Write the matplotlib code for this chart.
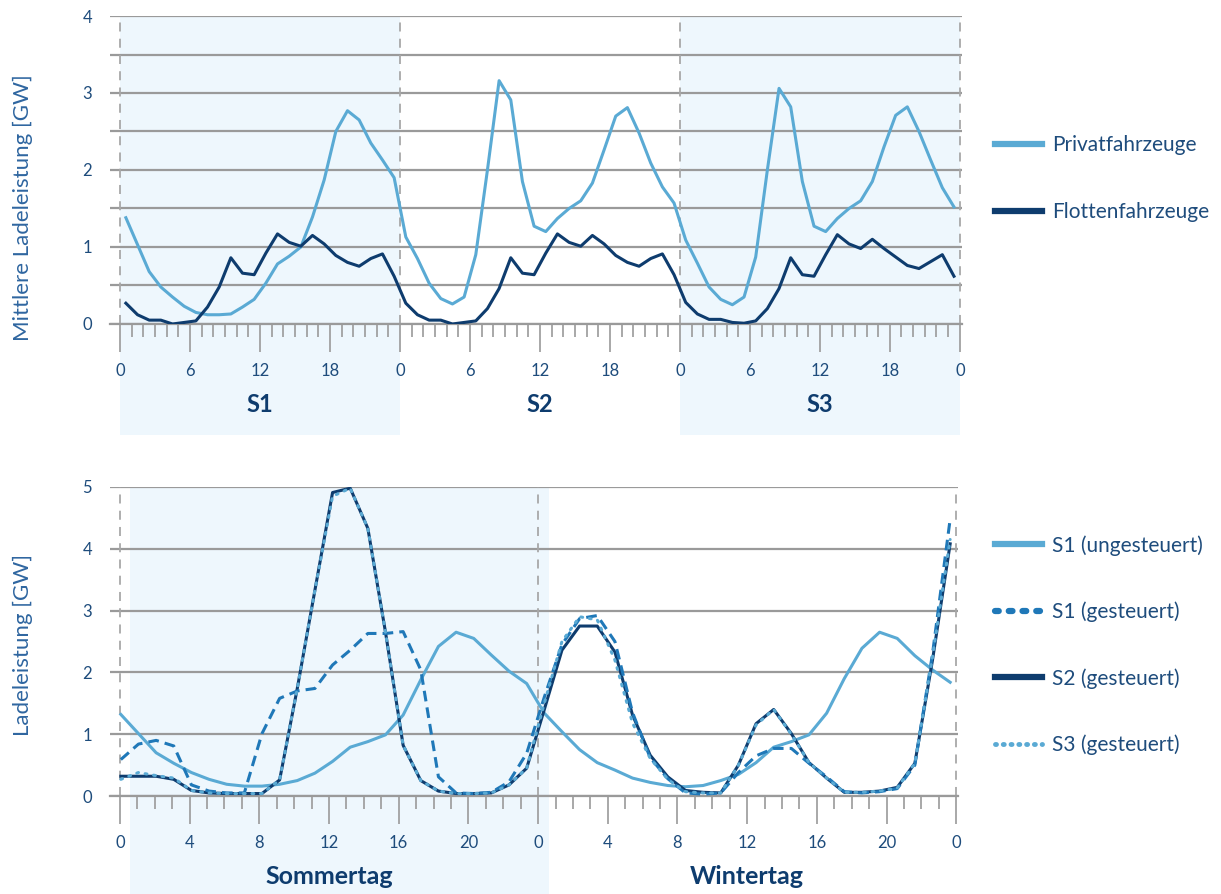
import numpy as np
import matplotlib
matplotlib.use('Agg')
import matplotlib.pyplot as plt
from matplotlib.lines import Line2D

plt.rcParams['font.family'] = ['Lato', 'DejaVu Sans']

# ---------------- data: top chart (hourly means, three scenarios S1..S3)
scenarios = ['S1', 'S2', 'S3']
private_s1 = [1.38, 1.03, 0.68, 0.48, 0.35, 0.23, 0.15, 0.12, 0.12, 0.13, 0.22, 0.32,
              0.53, 0.78, 0.88, 1.00, 1.39, 1.87, 2.50, 2.77, 2.65, 2.35, 2.13, 1.90]
private_s2 = [1.13, 0.85, 0.53, 0.33, 0.26, 0.35, 0.90, 2.00, 3.16, 2.91, 1.85, 1.27,
              1.20, 1.37, 1.50, 1.60, 1.83, 2.26, 2.70, 2.81, 2.48, 2.09, 1.78, 1.57]
private_s3 = [1.09, 0.79, 0.48, 0.32, 0.25, 0.35, 0.87, 2.00, 3.06, 2.82, 1.85, 1.27,
              1.20, 1.37, 1.50, 1.60, 1.85, 2.30, 2.71, 2.82, 2.50, 2.13, 1.77, 1.52]
fleet_s1 = [0.27, 0.12, 0.05, 0.05, 0.00, 0.02, 0.04, 0.22, 0.48, 0.86, 0.66, 0.64,
            0.92, 1.17, 1.06, 1.01, 1.15, 1.04, 0.89, 0.80, 0.75, 0.85, 0.91, 0.62]
fleet_s2 = [0.27, 0.12, 0.05, 0.05, 0.00, 0.02, 0.04, 0.20, 0.46, 0.86, 0.66, 0.64,
            0.92, 1.17, 1.06, 1.01, 1.15, 1.04, 0.89, 0.80, 0.75, 0.85, 0.91, 0.64]
fleet_s3 = [0.28, 0.13, 0.06, 0.06, 0.02, 0.01, 0.04, 0.20, 0.46, 0.86, 0.64, 0.62,
            0.90, 1.16, 1.04, 0.98, 1.10, 0.98, 0.87, 0.76, 0.72, 0.81, 0.90, 0.62]

# ---------------- data: bottom chart (summer day + winter day)
days = ['Sommertag', 'Wintertag']
s1_unctrl = [1.32, 1.01, 0.70, 0.53, 0.38, 0.27, 0.19, 0.16, 0.16, 0.19, 0.25, 0.37,
             0.56, 0.79, 0.88, 0.99, 1.31, 1.88, 2.42, 2.65, 2.55, 2.28, 2.02, 1.82,
             1.34, 1.04, 0.75, 0.54, 0.42, 0.29, 0.22, 0.17, 0.15, 0.17, 0.25, 0.35,
             0.54, 0.79, 0.88, 0.99, 1.34, 1.90, 2.39, 2.65, 2.55, 2.27, 2.04, 1.84]
s1_ctrl = [0.59, 0.84, 0.90, 0.81, 0.18, 0.08, 0.05, 0.05, 1.01, 1.58, 1.70, 1.74,
           2.12, 2.36, 2.63, 2.63, 2.66, 2.04, 0.31, 0.05, 0.04, 0.06, 0.23, 0.69,
           1.60, 2.45, 2.87, 2.92, 2.50, 1.35, 0.62, 0.28, 0.05, 0.03, 0.05, 0.38,
           0.65, 0.77, 0.77, 0.53, 0.31, 0.07, 0.05, 0.07, 0.12, 0.50, 2.30, 4.48]
s2_ctrl = [0.32, 0.32, 0.32, 0.27, 0.09, 0.05, 0.04, 0.04, 0.04, 0.26, 1.74, 3.33,
           4.91, 4.98, 4.33, 2.65, 0.82, 0.25, 0.08, 0.04, 0.04, 0.05, 0.18, 0.45,
           1.40, 2.36, 2.75, 2.75, 2.33, 1.31, 0.66, 0.31, 0.09, 0.06, 0.05, 0.50,
           1.17, 1.40, 1.01, 0.54, 0.29, 0.06, 0.06, 0.08, 0.14, 0.53, 2.20, 4.08]
s3_ctrl = [0.27, 0.38, 0.33, 0.29, 0.09, 0.05, 0.04, 0.04, 0.04, 0.26, 1.74, 3.33,
           4.85, 4.98, 4.33, 2.65, 0.82, 0.25, 0.08, 0.04, 0.04, 0.05, 0.18, 0.45,
           1.50, 2.50, 2.90, 2.85, 2.20, 1.18, 0.61, 0.27, 0.07, 0.05, 0.05, 0.50,
           1.15, 1.40, 1.00, 0.54, 0.29, 0.06, 0.06, 0.08, 0.13, 0.53, 2.25, 4.15]

LIGHT = '#5aaad4'
NAVY = '#0e3c6e'
MID = '#1f78b8'
TXT = '#1e4c7c'
YLAB = '#2f66a0'
SHADE = '#eef7fd'
GRID = '#9a9a9a'
VDASH = '#a8a8a8'


def style_axis(ax, ymax):
	for s in ['top', 'right', 'left']:
		ax.spines[s].set_visible(False)
	ax.spines['bottom'].set_color(GRID)
	ax.spines['bottom'].set_linewidth(1.6)
	ax.set_ylim(0, ymax)
	ax.tick_params(axis='y', which='both', length=0, pad=13, labelsize=12, labelcolor=TXT)
	ax.tick_params(axis='x', which='major', direction='out', length=20, width=1.2,
				   color=GRID, pad=8, labelsize=12, labelcolor=TXT)
	ax.tick_params(axis='x', which='minor', direction='out', length=9, width=1.2, color=GRID)
	ax.set_axisbelow(True)


fig = plt.figure(figsize=(12.21, 8.94), dpi=100)

#----------------------------------------------------------------------
# top: mean charging power per scenario
ax1 = fig.add_axes([0.0901, 0.6376, 0.6979, 0.3445])
style_axis(ax1, 4)
t = np.arange(72) + 0.5
private = private_s1 + private_s2 + private_s3
fleet = fleet_s1 + fleet_s2 + fleet_s3

for k in (0, 2):
	ax1.axvspan(24 * k, 24 * (k + 1), ymin=-0.36, ymax=1, color=SHADE, lw=0, clip_on=False, zorder=0)
ax1.set_yticks(np.arange(0, 5, 1))
ax1.set_yticks(np.arange(0.5, 4, 1), minor=True)
ax1.yaxis.grid(True, which='both', color=GRID, lw=1.6)
for v in range(0, 73, 24):
	ax1.axvline(v, color=VDASH, lw=1.3, ls=(0, (5, 4)), zorder=1)

ax1.plot(t, private, color=LIGHT, lw=2.2, zorder=3)
ax1.plot(t, fleet, color=NAVY, lw=2.2, zorder=3)

ax1.set_xlim(-0.86, 72.2)
ax1.set_xticks(np.arange(0, 73, 6))
ax1.set_xticklabels([str(h % 24) for h in range(0, 73, 6)])
ax1.set_xticks(np.arange(0, 73, 1), minor=True)
for k, name in enumerate(scenarios):
	ax1.text(24 * k + 12, -0.26, name, transform=ax1.get_xaxis_transform(), ha='center', va='center',
			 fontsize=17, fontweight='bold', color=NAVY)

fig.text(0.019, 0.768, 'Mittlere Ladeleistung [GW]', rotation=90, ha='center', va='center',
		 fontsize=16, color=YLAB)

h_top = [Line2D([], [], color=LIGHT, lw=4.5), Line2D([], [], color=NAVY, lw=4.5)]
fig.legend(h_top, ['Privatfahrzeuge', 'Flottenfahrzeuge'], loc='center left',
		   bbox_to_anchor=(0.806, 0.800), frameon=False, fontsize=15, handlelength=2.3,
		   handletextpad=0.45, labelspacing=2.25, borderpad=0, labelcolor=TXT)

#----------------------------------------------------------------------
# bottom: controlled vs. uncontrolled charging, summer and winter day
ax2 = fig.add_axes([0.0901, 0.1096, 0.6945, 0.3457])
style_axis(ax2, 5)
tb = np.linspace(0.05, 47.65, 48)

ax2.axvspan(0.57, 24.64, ymin=-0.32, ymax=1, color=SHADE, lw=0, clip_on=False, zorder=0)
ax2.set_yticks(np.arange(0, 6, 1))
ax2.yaxis.grid(True, color=GRID, lw=1.6)
for v in (0, 24, 48):
	ax2.axvline(v, color=VDASH, lw=1.3, ls=(0, (5, 4)), zorder=1)

ax2.plot(tb, s1_unctrl, color=LIGHT, lw=2.2, zorder=3)
ax2.plot(tb, s2_ctrl, color=NAVY, lw=2.2, zorder=4)
ax2.plot(tb, s1_ctrl, color=MID, lw=2.2, ls=(0, (3.5, 2)), zorder=5)
ax2.plot(tb, s3_ctrl, color=LIGHT, lw=2.2, ls=(0, (0.6, 2.2)), dash_capstyle='round', zorder=6)

ax2.set_xlim(-0.57, 48.1)
ax2.set_xticks(np.arange(0, 49, 4))
ax2.set_xticklabels([str(h % 24) for h in range(0, 49, 4)])
ax2.set_xticks(np.arange(0, 49, 1), minor=True)
for k, name in enumerate(days):
	ax2.text(24 * k + 12, -0.26, name, transform=ax2.get_xaxis_transform(), ha='center', va='center',
			 fontsize=18, fontweight='bold', color=NAVY)

fig.text(0.019, 0.279, 'Ladeleistung [GW]', rotation=90, ha='center', va='center',
		 fontsize=16, color=YLAB)

h_bot = [Line2D([], [], color=LIGHT, lw=4.5),
		 Line2D([], [], color=MID, lw=4.5, ls=(0, (0.6, 1.6)), dash_capstyle='round'),
		 Line2D([], [], color=NAVY, lw=4.5),
		 Line2D([], [], color=LIGHT, lw=3.5, ls=(0, (0.2, 1.4)), dash_capstyle='round')]
fig.legend(h_bot, ['S1 (ungesteuert)', 'S1 (gesteuert)', 'S2 (gesteuert)', 'S3 (gesteuert)'],
		   loc='center left', bbox_to_anchor=(0.806, 0.2785), frameon=False, fontsize=15,
		   handlelength=2.3, handletextpad=0.45, labelspacing=2.2, borderpad=0, labelcolor=TXT)

fig.savefig('out.png', dpi=100)
